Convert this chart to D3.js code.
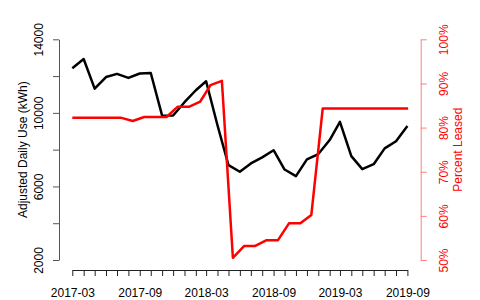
<!DOCTYPE html>
<html>
<head>
<meta charset="utf-8">
<script src="https://cdn.jsdelivr.net/npm/d3@7"></script>
<style>
  html, body { margin: 0; padding: 0; background: #fff; }
  svg { display: block; font-family: "Liberation Sans", Arial, sans-serif; }
</style>
</head>
<body>
<svg id="chart" width="480" height="300"></svg>
<script>
// ---- data ----
const useDates = [
  "2017-03-01","2017-04-01","2017-05-01","2017-06-01","2017-07-01","2017-08-01",
  "2017-09-01","2017-10-01","2017-11-01","2017-12-01","2018-01-01","2018-02-01",
  "2018-03-01","2018-04-01","2018-05-01","2018-06-01","2018-07-01","2018-08-01",
  "2018-09-01","2018-10-01","2018-11-01","2018-12-01","2019-01-01","2019-02-01",
  "2019-03-01","2019-04-01","2019-05-01","2019-06-01","2019-07-01","2019-08-01",
  "2019-09-01"
];
const dailyUse = [
  12430, 12930, 11320, 11950, 12120, 11900, 12140, 12170, 9850, 9860, 10580, 11230,
  11720, 9330, 7160, 6800, 7250, 7580, 7970, 6920, 6560, 7470, 7760, 8520,
  9510, 7650, 6940, 7210, 8070, 8460, 9280
];
const leaseDates = [
  "2017-03-01","2017-04-13","2017-05-13","2017-06-13","2017-07-13","2017-08-13",
  "2017-09-13","2017-10-13","2017-11-13","2017-12-13","2018-01-13","2018-02-13",
  "2018-03-13","2018-04-13","2018-05-13","2018-06-13","2018-07-13","2018-08-13",
  "2018-09-13","2018-10-13","2018-11-13","2018-12-13","2019-01-13","2019-02-13",
  "2019-03-13","2019-04-13","2019-05-13","2019-06-13","2019-07-13","2019-08-13",
  "2019-09-03"
];
const percentLeased = [
  82.2, 82.2, 82.2, 82.2, 82.2, 81.5, 82.4, 82.4, 82.4, 84.7, 84.7, 85.9,
  89.6, 90.6, 50.5, 53.2, 53.2, 54.5, 54.5, 58.3, 58.3, 60.2, 84.3, 84.3,
  84.3, 84.3, 84.3, 84.3, 84.3, 84.3, 84.3
];
const leftTicks = [2000, 4000, 6000, 8000, 10000, 12000, 14000];
const leftLabels = [2000, 6000, 10000, 14000];
const rightTicks = [50, 60, 70, 80, 90, 100];
const xLabelEvery = 6;
const leftTitle = "Adjusted Daily Use (kWh)";
const rightTitle = "Percent Leased";

// ---- layout ----
const parse = d3.timeParse("%Y-%m-%d");
const svg = d3.select("#chart");
const xLeft = 72.3, xRight = 407.4, yTop = 39.3, yBottom = 260;
const axisLeftX = 59, axisRightX = 420.7, axisBottomY = 270;

const x = d3.scaleTime()
  .domain([parse(useDates[0]), parse(useDates[useDates.length - 1])])
  .range([xLeft, xRight]);
const yL = d3.scaleLinear().domain([2000, 14000]).range([yBottom, yTop]);
const yR = d3.scaleLinear().domain([50, 100]).range([yBottom, yTop]);

const useData = useDates.map((d, i) => ({ date: parse(d), v: dailyUse[i] }));
const leaseData = leaseDates.map((d, i) => ({ date: parse(d), v: percentLeased[i] }));

// black line
svg.append("path")
  .datum(useData)
  .attr("fill", "none")
  .attr("stroke", "#000")
  .attr("stroke-width", 2.5)
  .attr("stroke-linejoin", "round")
  .attr("d", d3.line().x(d => x(d.date)).y(d => yL(d.v)));

// red line
svg.append("path")
  .datum(leaseData)
  .attr("fill", "none")
  .attr("stroke", "#ff0000")
  .attr("stroke-width", 2.5)
  .attr("stroke-linejoin", "round")
  .attr("d", d3.line().x(d => x(d.date)).y(d => yR(d.v)));

// bottom axis
const monthTicks = useDates.map(parse);
const fmt = d3.timeFormat("%Y-%m");
const gx = svg.append("g")
  .attr("transform", `translate(0,${axisBottomY})`)
  .call(d3.axisBottom(x).tickValues(monthTicks).tickSize(6).tickSizeOuter(0)
    .tickFormat((d, i) => i % xLabelEvery === 0 ? fmt(d) : ""));
gx.select(".domain").attr("stroke", "#222").attr("stroke-width", 1);
gx.selectAll(".tick line").attr("stroke", "#222");
gx.selectAll(".tick text")
  .attr("y", 26.5).attr("dy", 0)
  .attr("font-size", 12).attr("fill", "#000")
  .attr("font-family", "Liberation Sans, Arial, sans-serif");

// left axis
const gl = svg.append("g")
  .attr("transform", `translate(${axisLeftX},0)`)
  .call(d3.axisLeft(yL).tickValues(leftTicks).tickSize(6).tickSizeOuter(0)
    .tickFormat(d => leftLabels.includes(d) ? String(d) : ""));
gl.select(".domain").attr("stroke", "#555");
gl.selectAll(".tick line").attr("stroke", "#555");
gl.selectAll(".tick text")
  .attr("x", 0).attr("dy", 0)
  .attr("transform", "translate(-16.3,0) rotate(-90)")
  .attr("text-anchor", "middle")
  .attr("font-size", 12).attr("fill", "#000")
  .attr("font-family", "Liberation Sans, Arial, sans-serif");

svg.append("text")
  .attr("transform", `translate(27,${(yTop + yBottom) / 2}) rotate(-90)`)
  .attr("text-anchor", "middle")
  .attr("font-size", 12)
  .attr("fill", "#000")
  .text(leftTitle);

// right axis
const gr = svg.append("g")
  .attr("transform", `translate(${axisRightX},0)`)
  .call(d3.axisRight(yR).tickValues(rightTicks).tickSize(6).tickSizeOuter(0)
    .tickFormat(d => d + "%"));
gr.select(".domain").attr("stroke", "#ff8080");
gr.selectAll(".tick line").attr("stroke", "#ff8080");
gr.selectAll(".tick text")
  .attr("x", 0).attr("dy", 0)
  .attr("transform", "translate(27.6,0) rotate(-90)")
  .attr("text-anchor", "middle")
  .attr("font-size", 12).attr("fill", "#ff0000")
  .attr("font-family", "Liberation Sans, Arial, sans-serif");

svg.append("text")
  .attr("transform", `translate(461.7,${(yTop + yBottom) / 2}) rotate(-90)`)
  .attr("text-anchor", "middle")
  .attr("font-size", 12)
  .attr("fill", "#ff0000")
  .text(rightTitle);
</script>
</body>
</html>
